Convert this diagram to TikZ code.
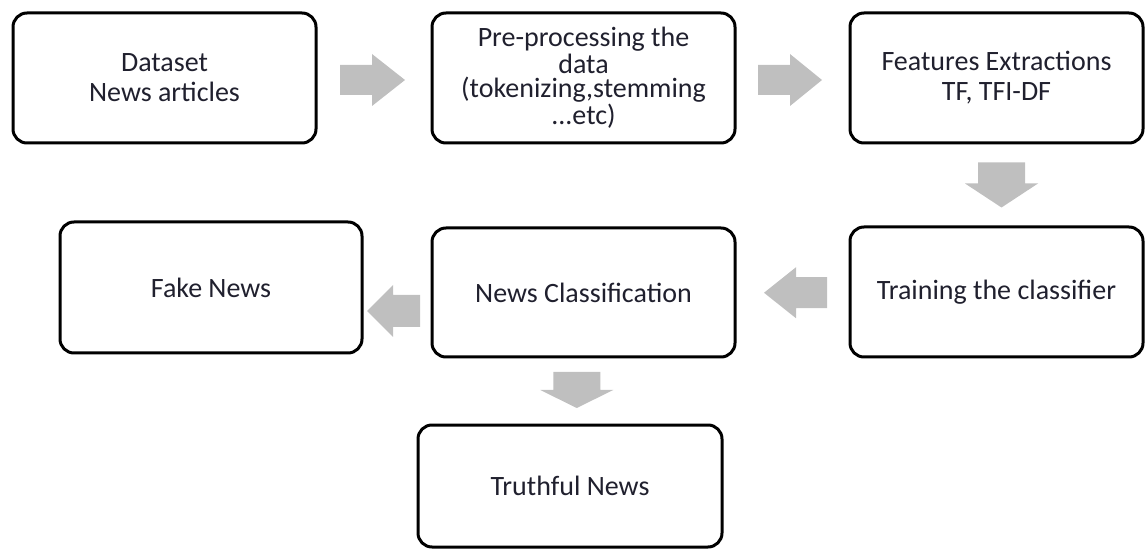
\documentclass[tikz,border=0pt]{standalone}
\usepackage{fontspec}
\setmainfont{Carlito}
\usetikzlibrary{calc}

\definecolor{arrowgray}{HTML}{BFBFBF}
\definecolor{labelink}{HTML}{20202E}

\tikzset{
  stage/.style={draw=black, line width=1.5pt, rounded corners=7pt, fill=white,
    align=center, text=labelink, inner sep=2pt,
    font=\fontsize{14}{15}\selectfont},
  % block arrow: #1 total length, #2 shaft width, #3 head width, #4 head length
  pics/blockarrow/.style n args={4}{code={
    \fill[arrowgray] ({-#1/2},{-#2/2}) -- ({#1/2-#4},{-#2/2}) -- ({#1/2-#4},{-#3/2})
      -- ({#1/2},0) -- ({#1/2-#4},{#3/2}) -- ({#1/2-#4},{#2/2}) -- ({-#1/2},{#2/2}) -- cycle;
  }}
}

\begin{document}
\begin{tikzpicture}[x=0.5pt, y=-0.5pt]
  \useasboundingbox (0,0) rectangle (1145,550);

  % top row
  \node[stage, minimum width=151.5pt, minimum height=65pt] (ds) at (164.5,78)
    {Dataset\\News articles};
  \node[stage, minimum width=151.5pt, minimum height=65pt,
        font=\fontsize{14}{12}\selectfont] (pp) at (583.5,78)
    {Pre-processing the\\data\\(tokenizing,stemming\\...etc)};
  \node[stage, minimum width=146.5pt, minimum height=65pt] (fe) at (996.5,78)
    {Features Extractions\\TF, TFI-DF};

  % middle row
  \node[stage, minimum width=146.5pt, minimum height=65pt] (tr) at (996.5,292)
    {Training the classifier};
  \node[stage, minimum width=151.5pt, minimum height=64.5pt] (nc) at (583.5,292.5)
    {News Classification};
  \node[stage, minimum width=151pt, minimum height=65.5pt] (fk) at (211,287.5)
    {Fake News};

  % bottom row
  \node[stage, minimum width=152pt, minimum height=61pt] (tn) at (570,486)
    {Truthful News};

  % block arrows between the stages
  \pic at ($(ds.east)!0.5!(pp.west)+(-1.5,2)$) {blockarrow={65}{30}{52}{33}};
  \pic at ($(pp.east)!0.5!(fe.west)+(-2.5,2)$) {blockarrow={64}{30}{52}{32}};
  \pic[rotate=-90] at ($(fe.south)!0.5!(tr.north)+(5,0)$) {blockarrow={45}{47}{73}{24}};
  \pic[rotate=180] at ($(tr.west)!0.5!(nc.east)+(3,0.5)$) {blockarrow={63}{31}{51}{32}};
  \pic[rotate=180] at ($(nc.west)!0.5!(fk.east)+(-3.5,21)$) {blockarrow={53}{32}{52}{26}};
  \pic[rotate=-90] at ($(nc.south)!0.5!(tn.north)+(0,-1)$) {blockarrow={36}{47}{73}{18}};
\end{tikzpicture}
\end{document}
